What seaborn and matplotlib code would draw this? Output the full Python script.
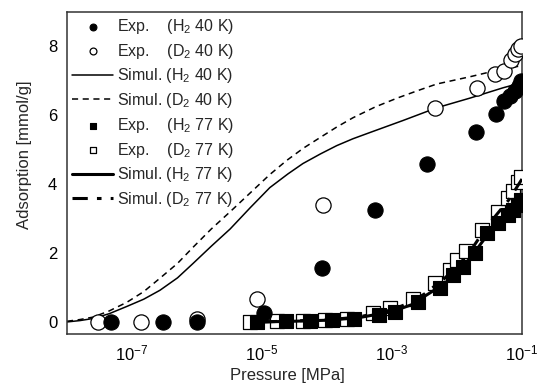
import numpy as np
import matplotlib
matplotlib.use("Agg")
import matplotlib.pyplot as plt
import matplotlib.ticker as mticker
import seaborn as sns

# Experimental points at 40 K (pressure in MPa, adsorption in mmol/g)
p_h2_40_exp = [4.8e-8, 3.0e-7, 1.0e-6, 1.07e-5, 8.3e-5, 5.5e-4, 3.5e-3, 1.95e-2,
               4.0e-2, 5.2e-2, 6.6e-2, 7.9e-2, 8.9e-2, 9.6e-2]
q_h2_40_exp = [0.0, 0.0, 0.0, 0.25, 1.56, 3.24, 4.6, 5.53,
               6.05, 6.43, 6.57, 6.72, 6.86, 7.0]
p_d2_40_exp = [3.0e-8, 1.4e-7, 1.0e-6, 8.3e-6, 8.7e-5, 4.6e-3, 2.0e-2, 3.8e-2,
               5.2e-2, 6.8e-2, 7.8e-2, 8.7e-2, 9.6e-2]
q_d2_40_exp = [0.0, 0.0, 0.08, 0.66, 3.41, 6.22, 6.8, 7.2,
               7.29, 7.6, 7.78, 7.93, 8.02]

# Simulations at 40 K (log10 of pressure)
logp_h2_40_sim = [-8.0, -7.8, -7.6, -7.35, -7.08, -6.82, -6.57, -6.3, -6.06, -5.78,
                  -5.49, -5.18, -4.88, -4.6, -4.37, -4.1, -3.85, -3.6, -3.34, -2.83,
                  -2.31, -1.8, -1.29, -1.0]
q_h2_40_sim = [0.0, 0.04, 0.1, 0.24, 0.45, 0.66, 0.92, 1.28, 1.7, 2.2,
               2.7, 3.32, 3.9, 4.3, 4.6, 4.88, 5.12, 5.32, 5.5, 5.85,
               6.22, 6.5, 6.8, 6.95]
logp_d2_40_sim = [-8.0, -7.8, -7.6, -7.35, -7.08, -6.82, -6.57, -6.3, -6.06, -5.78,
                  -5.49, -5.14, -4.88, -4.62, -4.36, -4.11, -3.85, -3.6, -3.25, -2.92,
                  -2.6, -2.31, -1.8, -1.29, -1.0]
q_d2_40_sim = [0.02, 0.07, 0.14, 0.32, 0.57, 0.88, 1.27, 1.7, 2.17, 2.7,
               3.2, 3.82, 4.28, 4.69, 5.05, 5.35, 5.66, 5.93, 6.25, 6.5,
               6.72, 6.91, 7.12, 7.35, 7.44]

# Experimental points at 77 K
p_h2_77_exp = [8.3e-6, 2.3e-5, 5.5e-5, 1.2e-4, 2.6e-4, 6.3e-4, 1.1e-3, 2.5e-3, 5.5e-3,
               8.7e-3, 1.23e-2, 1.9e-2, 2.9e-2, 4.3e-2, 6.0e-2, 7.2e-2, 8.7e-2, 9.5e-2]
q_h2_77_exp = [0.0, 0.02, 0.03, 0.05, 0.1, 0.2, 0.3, 0.57, 0.98,
               1.35, 1.6, 2.0, 2.57, 2.86, 3.1, 3.24, 3.4, 3.55]
p_d2_77_exp = [6.6e-6, 1.7e-5, 4.2e-5, 9.3e-5, 2.0e-4, 5.1e-4, 9.3e-4, 2.1e-3, 4.6e-3,
               7.8e-3, 1.0e-2, 1.4e-2, 2.4e-2, 4.3e-2, 6.0e-2, 7.2e-2, 8.7e-2, 9.5e-2]
q_d2_77_exp = [0.0, 0.03, 0.04, 0.06, 0.1, 0.25, 0.4, 0.68, 1.12,
               1.5, 1.79, 2.05, 2.66, 3.2, 3.6, 3.8, 4.05, 4.2]

# Simulations at 77 K
p_77_sim = [1e-5, 3e-5, 1e-4, 3e-4, 1e-3, 2e-3, 3.2e-3, 6.3e-3, 1e-2,
            1.6e-2, 2.5e-2, 4e-2, 6.3e-2, 1e-1]
q_h2_77_sim = [0.0, 0.02, 0.05, 0.12, 0.3, 0.5, 0.75, 1.1, 1.45,
               1.85, 2.35, 2.85, 3.2, 3.6]
q_d2_77_sim = [0.0, 0.03, 0.06, 0.14, 0.35, 0.58, 0.82, 1.25, 1.6,
               2.05, 2.6, 3.1, 3.55, 4.15]

sns.set_style("white")
plt.rcParams["font.family"] = ["Liberation Sans", "DejaVu Sans"]
plt.rcParams["mathtext.fontset"] = "custom"
plt.rcParams["mathtext.rm"] = "Liberation Sans"
plt.rcParams["mathtext.it"] = "Liberation Sans:italic"
plt.rcParams["mathtext.bf"] = "Liberation Sans:bold"

fig = plt.figure(figsize=(5.37, 3.83), dpi=100)
ax = fig.add_axes([67 / 537, 49 / 383, 455 / 537, 322 / 383])
ax.set_xscale("log")

circ = 120
sq = 95
sns.scatterplot(x=p_h2_40_exp, y=q_h2_40_exp, marker="o", s=circ, color="black",
                edgecolor="black", linewidth=0.8, ax=ax, zorder=4,
                label="Exp.    (H$_2$ 40 K)")
sns.scatterplot(x=p_d2_40_exp, y=q_d2_40_exp, marker="o", s=circ, facecolor="white",
                edgecolor="black", linewidth=0.9, ax=ax, zorder=3,
                label="Exp.    (D$_2$ 40 K)")
sns.lineplot(x=10 ** np.array(logp_h2_40_sim), y=q_h2_40_sim, color="black", lw=1.1,
             ax=ax, zorder=2, label="Simul. (H$_2$ 40 K)")
sns.lineplot(x=10 ** np.array(logp_d2_40_sim), y=q_d2_40_sim, color="black", lw=1.1,
             linestyle=(0, (4, 3)), ax=ax, zorder=2, label="Simul. (D$_2$ 40 K)")
sns.scatterplot(x=p_h2_77_exp, y=q_h2_77_exp, marker="s", s=sq, color="black",
                edgecolor="black", linewidth=0.8, ax=ax, zorder=4,
                label="Exp.    (H$_2$ 77 K)")
sns.scatterplot(x=p_d2_77_exp, y=q_d2_77_exp, marker="s", s=sq, facecolor="white",
                edgecolor="black", linewidth=0.9, ax=ax, zorder=3,
                label="Exp.    (D$_2$ 77 K)")
sns.lineplot(x=p_77_sim, y=q_h2_77_sim, color="black", lw=2.2, ax=ax, zorder=5,
             label="Simul. (H$_2$ 77 K)")
sns.lineplot(x=p_77_sim, y=q_d2_77_sim, color="black", lw=2.2, linestyle=(0, (5, 3, 1.5, 3)),
             ax=ax, zorder=5, label="Simul. (D$_2$ 77 K)")

ax.set_xlim(1e-8, 1e-1)
ax.set_ylim(-0.35, 9)

ax.xaxis.set_major_locator(mticker.LogLocator(base=10, numticks=20))
ax.xaxis.set_minor_locator(mticker.LogLocator(base=10, subs=np.arange(2, 10), numticks=20))


def fmt_x(v, pos):
    e = int(round(np.log10(v)))
    if e < -8 or e > -1:
        return ""
    return r"10$^{%d}$" % e if e % 2 != 0 else ""


ax.xaxis.set_major_formatter(mticker.FuncFormatter(fmt_x))
ax.xaxis.set_minor_formatter(mticker.NullFormatter())
ax.yaxis.set_major_locator(mticker.MultipleLocator(2))
ax.yaxis.set_minor_locator(mticker.MultipleLocator(1))

ax.tick_params(which="both", direction="in", top=False, right=False,
               labelsize=12, colors="black", pad=7)
ax.tick_params(which="major", length=6, width=1)
ax.tick_params(which="minor", length=3, width=1)
for sp in ax.spines.values():
    sp.set_color("#333333")
    sp.set_linewidth(1.1)

ax.set_xlabel("Pressure [MPa]", fontsize=12)
ax.set_ylabel("Adsorption [mmol/g]", fontsize=12)
ax.xaxis.set_label_coords(0.485, -0.105)
ax.yaxis.set_label_coords(-0.077, 0.556)

handles, labels = ax.get_legend_handles_labels()
ax.legend(handles, labels, loc="upper left", bbox_to_anchor=(0.0, 1.0), frameon=False,
          fontsize=11.5, markerscale=0.45, handlelength=2.6, handletextpad=0.25,
          labelspacing=0.36, borderpad=0.3, borderaxespad=0.0)

fig.savefig("out.png", dpi=100)
